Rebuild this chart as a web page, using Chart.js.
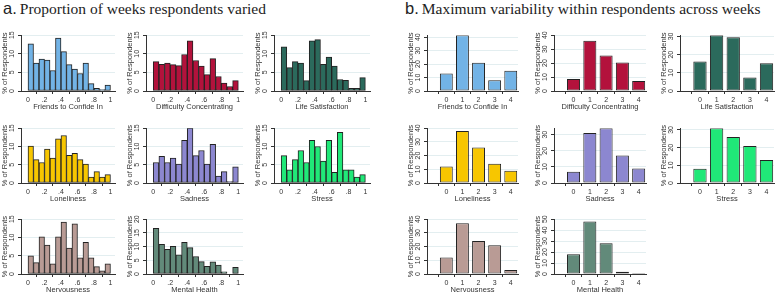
<!DOCTYPE html>
<html><head><meta charset="utf-8">
<script src="https://cdn.jsdelivr.net/npm/chart.js@4/dist/chart.umd.min.js"></script>
<style>
body{margin:0;background:#fff;width:778px;height:293px;overflow:hidden;position:relative;font-family:"Liberation Sans",Arial,sans-serif}
canvas{position:absolute}
.title{position:absolute;font-family:"Liberation Serif",serif;font-size:15.5px;line-height:15px;color:#222;white-space:nowrap}
.title .lab{font-family:"Liberation Sans",sans-serif;font-size:16.5px;margin-right:3px}
</style></head><body>
<div class="title" style="left:3px;top:1px"><span class="lab">a.</span>Proportion of weeks respondents varied</div>
<div class="title" style="left:405px;top:1px"><span class="lab">b.</span>Maximum variability within respondents across weeks</div>
<script>
// ---- categories ----
const binCentersA = [1/30, 3/30, 5/30, 7/30, 9/30, 11/30, 13/30, 15/30, 17/30, 19/30, 21/30, 23/30, 25/30, 27/30, 29/30];
const categoriesB = [0, 1, 2, 3, 4];
const xTicksA = [0, 0.2, 0.4, 0.6, 0.8, 1];
const xTicksB = [0, 1, 2, 3, 4];

// ---- panel a: proportion of weeks varied (% of respondents) ----
const friendsA = [12.7, 7.5, 8.6, 8.3, 5.5, 14.2, 10.6, 7.1, 5.9, 4.7, 7.5, 2.0, 0.7, 0.4, 1.6];
const difficultyA = [7.9, 7.2, 7.5, 7.1, 6.8, 9.8, 13.5, 8.2, 6.7, 4.4, 8.7, 3.9, 2.1, 1.2, 2.8];
const lifeSatA = [11.9, 6.3, 7.9, 7.5, 2.8, 13.5, 13.8, 7.2, 9.1, 6.7, 3.1, 2.9, 0.7, 0.7, 3.6];
const lonelinessA = [10.1, 6.4, 5.6, 9.3, 6.8, 12.1, 13.0, 7.6, 8.1, 6.4, 5.2, 1.6, 3.1, 1.6, 2.3];
const sadnessA = [5.6, 7.3, 5.6, 6.8, 5.2, 11.7, 15.0, 7.5, 8.9, 5.2, 10.6, 1.9, 3.1, 0.4, 4.4];
const stressA = [7.5, 3.6, 6.4, 8.9, 5.6, 11.7, 10.0, 6.0, 11.7, 2.9, 13.9, 3.6, 3.6, 1.6, 2.3];
const nervousnessA = [5.0, 3.1, 10.2, 7.9, 2.8, 10.2, 14.2, 7.1, 13.7, 4.4, 8.7, 4.4, 2.0, 0.9, 2.8];
const mentalHealthA = [16.7, 10.8, 9.0, 10.1, 7.0, 11.6, 9.6, 6.4, 4.5, 2.8, 4.4, 3.3, 0.8, null, 2.4];

// ---- panel b: maximum variability (% of respondents) ----
const friendsB = [13, 41.5, 21, 8, 15];
const difficultyB = [8.6, 36, 25.5, 20.5, 7.1];
const lifeSatB = [16.2, 30.7, 29.6, 7.4, 15.3];
const lonelinessB = [12, 38, 26, 14, 9];
const sadnessB = [7, 31, 34, 17, 9];
const stressB = [8, 31, 26, 21, 13];
const nervousnessB = [12, 37, 24, 21, 3];
const mentalHealthB = [18, 48, 28, 2, 1];

// ---- y tick labels ----
const yTicks15 = [0, 5, 10, 15];
const yTicks20 = [0, 5, 10, 15, 20];
const yTicks30 = [0, 10, 20, 30];
const yTicks40 = [0, 10, 20, 30, 40];
const yTicks50 = [0, 10, 20, 30, 40, 50];

const colors = {
  friends: '#72b3e6', difficulty: '#b3123c', life: '#2b6a5c', lonely: '#f7c600',
  sad: '#8c87d0', stress: '#20e878', nerv: '#b99b95', mental: '#628a7a'
};

const TXT = '#333';
const tickFont = {family: 'Liberation Sans', size: 7};
const titleFont = {family: 'Liberation Sans', size: 7.5};

function fmtA(v) { if (v === 0) return '0'; if (v === 1) return '1'; return String(v).replace('0.', '.'); }

function makeChart(cfg) {
  const Y_W = 21, X_H = 20, PT = 6, PR = 4;
  const c = document.createElement('canvas');
  const w = (cfg.right - cfg.axisX) + Y_W + PR;
  const h = (cfg.bottom - cfg.top) + PT + X_H;
  c.width = w; c.height = h;
  c.style.left = (cfg.axisX - Y_W) + 'px';
  c.style.top = (cfg.top - PT) + 'px';
  c.style.width = w + 'px'; c.style.height = h + 'px';
  document.body.appendChild(c);
  new Chart(c, {
    type: 'bar',
    data: {datasets: [{
      data: cfg.x.map((x, i) => ({x: x, y: cfg.y[i]})),
      backgroundColor: cfg.color, borderColor: '#222', borderWidth: 1, borderSkipped: false,
      barPercentage: cfg.bp, categoryPercentage: 1
    }]},
    options: {
      responsive: false, animation: false, devicePixelRatio: 1,
      layout: {padding: {top: PT, right: PR, left: 0, bottom: 0}},
      plugins: {legend: {display: false}, tooltip: {enabled: false}},
      scales: {
        x: {
          type: 'linear', min: cfg.xmin, max: cfg.xmax, offset: false,
          afterBuildTicks: s => { s.ticks = cfg.xt.map(v => ({value: v})); },
          ticks: {callback: cfg.fmt, font: tickFont, color: TXT, padding: 2, maxRotation: 0, minRotation: 0, autoSkip: false},
          grid: {drawOnChartArea: false, tickLength: 3, tickColor: TXT},
          border: {color: TXT},
          title: {display: true, text: cfg.label, font: titleFont, color: TXT, padding: 0},
          afterFit: s => { s.height = X_H; }
        },
        y: {
          min: 0, max: cfg.ymax,
          afterBuildTicks: s => { s.ticks = cfg.yt.map(v => ({value: v})); },
          ticks: {minRotation: 90, maxRotation: 90, crossAlign: 'center', padding: 2, font: tickFont, color: TXT},
          grid: {color: '#e3eef0', tickLength: 3, tickColor: TXT},
          border: {color: TXT},
          title: {display: true, text: '% of Respondents', font: titleFont, color: TXT, padding: 0},
          afterFit: s => { s.width = Y_W; }
        }
      }
    }
  });
}

const colA = [{axisX: 21, right: 115}, {axisX: 146, right: 243}, {axisX: 274, right: 370}];
const colB = [{axisX: 427, right: 518}, {axisX: 554, right: 646}, {axisX: 680, right: 774}];
const rows = [{top: 35, bottom: 91}, {top: 128, bottom: 183}, {top: 219, bottom: 274}];

function A(col, row, label, y, color, yt, ymax) {
  makeChart(Object.assign({}, colA[col], rows[row], {label, y, color, yt, ymax, x: binCentersA, xt: xTicksA, fmt: fmtA, xmin: -0.085, xmax: 1.055, bp: 1}));
}
function B(col, row, label, y, color, yt, ymax) {
  makeChart(Object.assign({}, colB[col], rows[row], {label, y, color, yt, ymax, x: categoriesB, xt: xTicksB, fmt: v => String(v), xmin: -1.2, xmax: 4.45, bp: 0.8}));
}

A(0, 0, 'Friends to Confide In', friendsA, colors.friends, yTicks15, 15);
A(1, 0, 'Difficulty Concentrating', difficultyA, colors.difficulty, yTicks15, 15);
A(2, 0, 'Life Satisfaction', lifeSatA, colors.life, yTicks15, 15);
A(0, 1, 'Loneliness', lonelinessA, colors.lonely, yTicks15, 15);
A(1, 1, 'Sadness', sadnessA, colors.sad, yTicks15, 15);
A(2, 1, 'Stress', stressA, colors.stress, yTicks15, 15);
A(0, 2, 'Nervousness', nervousnessA, colors.nerv, yTicks15, 15);
A(1, 2, 'Mental Health', mentalHealthA, colors.mental, yTicks20, 20);

B(0, 0, 'Friends to Confide In', friendsB, colors.friends, yTicks40, 41.5);
B(1, 0, 'Difficulty Concentrating', difficultyB, colors.difficulty, yTicks40, 40);
B(2, 0, 'Life Satisfaction', lifeSatB, colors.life, yTicks30, 30.7);
B(0, 1, 'Loneliness', lonelinessB, colors.lonely, yTicks40, 40);
B(1, 1, 'Sadness', sadnessB, colors.sad, yTicks30, 34);
B(2, 1, 'Stress', stressB, colors.stress, yTicks30, 31);
B(0, 2, 'Nervousness', nervousnessB, colors.nerv, yTicks40, 40);
B(1, 2, 'Mental Health', mentalHealthB, colors.mental, yTicks50, 50);
</script>
</body></html>
